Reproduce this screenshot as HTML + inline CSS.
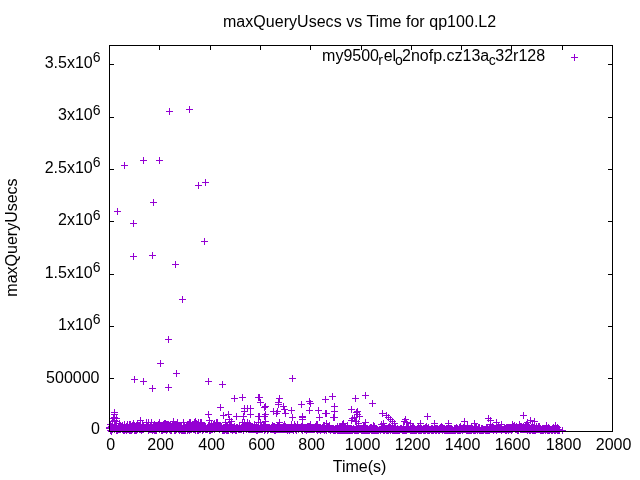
<!DOCTYPE html>
<html><head><meta charset="utf-8"><title>maxQueryUsecs vs Time for qp100.L2</title>
<style>html,body{margin:0;padding:0;background:#fff}body{width:640px;height:480px;overflow:hidden}</style></head>
<body>
<svg width="640" height="480" viewBox="0 0 640 480" style="display:block">
<rect width="640" height="480" fill="#fff"/>
<g font-family="'Liberation Sans', sans-serif" font-size="16" fill="#000">
<text x="359.6" y="27" text-anchor="middle" textLength="273.2">maxQueryUsecs vs Time for qp100.L2</text>
<text x="359.6" y="472" text-anchor="middle">Time(s)</text>
<text transform="translate(17,237.5) rotate(-90)" text-anchor="middle">maxQueryUsecs</text>
<text x="100" y="434.4" text-anchor="end">0</text>
<text x="99.5" y="382.5" text-anchor="end">500000</text>
<text x="100.5" y="330.0" text-anchor="end">1x10<tspan font-size="14" dy="-5.6">6</tspan></text>
<text x="100.5" y="277.6" text-anchor="end">1.5x10<tspan font-size="14" dy="-5.6">6</tspan></text>
<text x="100.5" y="225.2" text-anchor="end">2x10<tspan font-size="14" dy="-5.6">6</tspan></text>
<text x="100.5" y="172.8" text-anchor="end">2.5x10<tspan font-size="14" dy="-5.6">6</tspan></text>
<text x="100.5" y="120.3" text-anchor="end">3x10<tspan font-size="14" dy="-5.6">6</tspan></text>
<text x="100.5" y="67.9" text-anchor="end">3.5x10<tspan font-size="14" dy="-5.6">6</tspan></text>
<text x="110.6" y="450" text-anchor="middle">0</text>
<text x="160.6" y="450" text-anchor="middle">200</text>
<text x="211.6" y="450" text-anchor="middle">400</text>
<text x="261.6" y="450" text-anchor="middle">600</text>
<text x="311.6" y="450" text-anchor="middle">800</text>
<text x="362.6" y="450" text-anchor="middle">1000</text>
<text x="412.6" y="450" text-anchor="middle">1200</text>
<text x="462.6" y="450" text-anchor="middle">1400</text>
<text x="512.6" y="450" text-anchor="middle">1600</text>
<text x="563.6" y="450" text-anchor="middle">1800</text>
<text x="613.6" y="450" text-anchor="middle">2000</text>
<text y="60.5"><tspan x="322.1" y="60.5" font-size="16">my9500</tspan><tspan x="378.3" y="64.5" font-size="14">r</tspan><tspan x="383.7" y="60.5" font-size="16">el</tspan><tspan x="395.0" y="64.5" font-size="14">o</tspan><tspan x="402.0" y="60.5" font-size="16">2nofp.cz13a</tspan><tspan x="488.7" y="64.5" font-size="14">c</tspan><tspan x="495.3" y="60.5" font-size="16">32r128</tspan></text>
</g>
<path d="M109.5 431.5v-4.5M109.5 45.5v4.5M159.5 431.5v-4.5M159.5 45.5v4.5M210.5 431.5v-4.5M210.5 45.5v4.5M260.5 431.5v-4.5M260.5 45.5v4.5M310.5 431.5v-4.5M310.5 45.5v4.5M361.5 431.5v-4.5M361.5 45.5v4.5M411.5 431.5v-4.5M411.5 45.5v4.5M461.5 431.5v-4.5M461.5 45.5v4.5M511.5 431.5v-4.5M511.5 45.5v4.5M562.5 431.5v-4.5M562.5 45.5v4.5M612.5 431.5v-4.5M612.5 45.5v4.5M109.5 431.5h4.5M612.5 431.5h-4.5M109.5 378.5h4.5M612.5 378.5h-4.5M109.5 326.5h4.5M612.5 326.5h-4.5M109.5 274.5h4.5M612.5 274.5h-4.5M109.5 221.5h4.5M612.5 221.5h-4.5M109.5 169.5h4.5M612.5 169.5h-4.5M109.5 117.5h4.5M612.5 117.5h-4.5M109.5 64.5h4.5M612.5 64.5h-4.5" stroke="#000" stroke-width="1" fill="none" shape-rendering="crispEdges"/>
<path d="M110 428.5h7M113.5 425v7M110 427.5h7M113.5 424v7M111 429.5h7M114.5 426v7M111 428.5h7M114.5 425v7M111 425.5h7M114.5 422v7M111 427.5h7M114.5 424v7M112 425.5h7M115.5 422v7M112 427.5h7M115.5 424v7M113 430.5h7M116.5 427v7M113 426.5h7M116.5 423v7M113 427.5h7M116.5 424v7M114 430.5h7M117.5 427v7M114 429.5h7M117.5 426v7M115 427.5h7M118.5 424v7M115 428.5h7M118.5 425v7M115 429.5h7M118.5 426v7M116 427.5h7M119.5 424v7M116 429.5h7M119.5 426v7M116 423.5h7M119.5 420v7M117 427.5h7M120.5 424v7M117 425.5h7M120.5 422v7M117 429.5h7M120.5 426v7M118 428.5h7M121.5 425v7M118 426.5h7M121.5 423v7M118 427.5h7M121.5 424v7M119 428.5h7M122.5 425v7M119 429.5h7M122.5 426v7M119 425.5h7M122.5 422v7M120 429.5h7M123.5 426v7M120 427.5h7M123.5 424v7M120 430.5h7M123.5 427v7M121 428.5h7M124.5 425v7M121 424.5h7M124.5 421v7M121 430.5h7M124.5 427v7M122 428.5h7M125.5 425v7M122 429.5h7M125.5 426v7M122 427.5h7M125.5 424v7M123 430.5h7M126.5 427v7M123 426.5h7M126.5 423v7M124 424.5h7M127.5 421v7M124 427.5h7M127.5 424v7M124 428.5h7M127.5 425v7M124 429.5h7M127.5 426v7M125 427.5h7M128.5 424v7M125 429.5h7M128.5 426v7M126 429.5h7M129.5 426v7M126 424.5h7M129.5 421v7M126 430.5h7M129.5 427v7M127 430.5h7M130.5 427v7M127 427.5h7M130.5 424v7M127 424.5h7M130.5 421v7M128 430.5h7M131.5 427v7M128 427.5h7M131.5 424v7M128 429.5h7M131.5 426v7M129 429.5h7M132.5 426v7M129 426.5h7M132.5 423v7M129 425.5h7M132.5 422v7M129 428.5h7M132.5 425v7M130 427.5h7M133.5 424v7M130 423.5h7M133.5 420v7M131 427.5h7M134.5 424v7M131 430.5h7M134.5 427v7M131 425.5h7M134.5 422v7M132 426.5h7M135.5 423v7M132 427.5h7M135.5 424v7M132 430.5h7M135.5 427v7M132 429.5h7M135.5 426v7M133 426.5h7M136.5 423v7M133 430.5h7M136.5 427v7M133 428.5h7M136.5 425v7M133 425.5h7M136.5 422v7M134 429.5h7M137.5 426v7M134 423.5h7M137.5 420v7M134 427.5h7M137.5 424v7M134 428.5h7M137.5 425v7M135 427.5h7M138.5 424v7M135 426.5h7M138.5 423v7M135 428.5h7M138.5 425v7M135 425.5h7M138.5 422v7M136 429.5h7M139.5 426v7M136 428.5h7M139.5 425v7M136 425.5h7M139.5 422v7M137 429.5h7M140.5 426v7M137 426.5h7M140.5 423v7M137 424.5h7M140.5 421v7M137 428.5h7M140.5 425v7M138 430.5h7M141.5 427v7M138 428.5h7M141.5 425v7M139 424.5h7M142.5 421v7M139 429.5h7M142.5 426v7M139 425.5h7M142.5 422v7M140 429.5h7M143.5 426v7M140 426.5h7M143.5 423v7M140 425.5h7M143.5 422v7M141 427.5h7M144.5 424v7M141 428.5h7M144.5 425v7M142 428.5h7M145.5 425v7M142 427.5h7M145.5 424v7M143 426.5h7M146.5 423v7M143 427.5h7M146.5 424v7M143 422.5h7M146.5 419v7M144 428.5h7M147.5 425v7M144 426.5h7M147.5 423v7M145 428.5h7M148.5 425v7M145 427.5h7M148.5 424v7M145 422.5h7M148.5 419v7M145 430.5h7M148.5 427v7M146 429.5h7M149.5 426v7M146 427.5h7M149.5 424v7M147 428.5h7M150.5 425v7M147 426.5h7M150.5 423v7M147 427.5h7M150.5 424v7M147 429.5h7M150.5 426v7M148 422.5h7M151.5 419v7M148 427.5h7M151.5 424v7M148 429.5h7M151.5 426v7M148 428.5h7M151.5 425v7M149 428.5h7M152.5 425v7M149 430.5h7M152.5 427v7M149 429.5h7M152.5 426v7M150 425.5h7M153.5 422v7M150 429.5h7M153.5 426v7M150 428.5h7M153.5 425v7M150 426.5h7M153.5 423v7M151 426.5h7M154.5 423v7M151 424.5h7M154.5 421v7M151 430.5h7M154.5 427v7M151 428.5h7M154.5 425v7M152 428.5h7M155.5 425v7M152 426.5h7M155.5 423v7M152 425.5h7M155.5 422v7M152 430.5h7M155.5 427v7M153 425.5h7M156.5 422v7M153 430.5h7M156.5 427v7M153 426.5h7M156.5 423v7M154 427.5h7M157.5 424v7M154 425.5h7M157.5 422v7M154 428.5h7M157.5 425v7M155 426.5h7M158.5 423v7M155 428.5h7M158.5 425v7M155 424.5h7M158.5 421v7M156 425.5h7M159.5 422v7M156 428.5h7M159.5 425v7M156 422.5h7M159.5 419v7M156 429.5h7M159.5 426v7M157 426.5h7M160.5 423v7M157 428.5h7M160.5 425v7M158 427.5h7M161.5 424v7M158 426.5h7M161.5 423v7M158 430.5h7M161.5 427v7M159 427.5h7M162.5 424v7M159 429.5h7M162.5 426v7M159 430.5h7M162.5 427v7M160 425.5h7M163.5 422v7M160 426.5h7M163.5 423v7M160 424.5h7M163.5 421v7M160 429.5h7M163.5 426v7M161 428.5h7M164.5 425v7M161 429.5h7M164.5 426v7M161 426.5h7M164.5 423v7M161 423.5h7M164.5 420v7M162 429.5h7M165.5 426v7M162 423.5h7M165.5 420v7M162 425.5h7M165.5 422v7M162 428.5h7M165.5 425v7M163 430.5h7M166.5 427v7M163 424.5h7M166.5 421v7M163 428.5h7M166.5 425v7M163 429.5h7M166.5 426v7M164 427.5h7M167.5 424v7M164 424.5h7M167.5 421v7M164 429.5h7M167.5 426v7M165 425.5h7M168.5 422v7M165 424.5h7M168.5 421v7M165 428.5h7M168.5 425v7M166 429.5h7M169.5 426v7M166 425.5h7M169.5 422v7M166 428.5h7M169.5 425v7M167 424.5h7M170.5 421v7M167 428.5h7M170.5 425v7M167 430.5h7M170.5 427v7M168 430.5h7M171.5 427v7M168 426.5h7M171.5 423v7M168 427.5h7M171.5 424v7M168 429.5h7M171.5 426v7M169 428.5h7M172.5 425v7M169 426.5h7M172.5 423v7M169 424.5h7M172.5 421v7M170 428.5h7M173.5 425v7M170 425.5h7M173.5 422v7M170 424.5h7M173.5 421v7M170 423.5h7M173.5 420v7M171 429.5h7M174.5 426v7M171 426.5h7M174.5 423v7M171 430.5h7M174.5 427v7M172 430.5h7M175.5 427v7M172 425.5h7M175.5 422v7M172 429.5h7M175.5 426v7M172 428.5h7M175.5 425v7M173 428.5h7M176.5 425v7M173 429.5h7M176.5 426v7M173 427.5h7M176.5 424v7M174 422.5h7M177.5 419v7M174 428.5h7M177.5 425v7M174 427.5h7M177.5 424v7M174 425.5h7M177.5 422v7M175 428.5h7M178.5 425v7M175 429.5h7M178.5 426v7M175 425.5h7M178.5 422v7M176 430.5h7M179.5 427v7M176 429.5h7M179.5 426v7M176 425.5h7M179.5 422v7M176 426.5h7M179.5 423v7M177 428.5h7M180.5 425v7M177 426.5h7M180.5 423v7M177 427.5h7M180.5 424v7M177 429.5h7M180.5 426v7M178 430.5h7M181.5 427v7M178 429.5h7M181.5 426v7M178 426.5h7M181.5 423v7M179 429.5h7M182.5 426v7M179 430.5h7M182.5 427v7M179 428.5h7M182.5 425v7M180 429.5h7M183.5 426v7M180 427.5h7M183.5 424v7M180 430.5h7M183.5 427v7M181 429.5h7M184.5 426v7M181 430.5h7M184.5 427v7M181 426.5h7M184.5 423v7M181 428.5h7M184.5 425v7M182 430.5h7M185.5 427v7M182 429.5h7M185.5 426v7M182 427.5h7M185.5 424v7M183 426.5h7M186.5 423v7M183 427.5h7M186.5 424v7M184 424.5h7M187.5 421v7M184 426.5h7M187.5 423v7M184 427.5h7M187.5 424v7M184 430.5h7M187.5 427v7M185 426.5h7M188.5 423v7M185 424.5h7M188.5 421v7M185 428.5h7M188.5 425v7M185 429.5h7M188.5 426v7M186 422.5h7M189.5 419v7M186 430.5h7M189.5 427v7M186 427.5h7M189.5 424v7M187 429.5h7M190.5 426v7M187 426.5h7M190.5 423v7M187 422.5h7M190.5 419v7M187 428.5h7M190.5 425v7M188 427.5h7M191.5 424v7M188 426.5h7M191.5 423v7M188 429.5h7M191.5 426v7M188 428.5h7M191.5 425v7M189 427.5h7M192.5 424v7M189 426.5h7M192.5 423v7M189 428.5h7M192.5 425v7M190 429.5h7M193.5 426v7M190 428.5h7M193.5 425v7M190 426.5h7M193.5 423v7M191 429.5h7M194.5 426v7M191 422.5h7M194.5 419v7M191 425.5h7M194.5 422v7M192 426.5h7M195.5 423v7M192 430.5h7M195.5 427v7M192 427.5h7M195.5 424v7M193 423.5h7M196.5 420v7M193 427.5h7M196.5 424v7M193 428.5h7M196.5 425v7M194 430.5h7M197.5 427v7M194 425.5h7M197.5 422v7M194 427.5h7M197.5 424v7M194 429.5h7M197.5 426v7M195 424.5h7M198.5 421v7M195 422.5h7M198.5 419v7M195 430.5h7M198.5 427v7M195 429.5h7M198.5 426v7M196 427.5h7M199.5 424v7M196 428.5h7M199.5 425v7M196 429.5h7M199.5 426v7M197 422.5h7M200.5 419v7M197 425.5h7M200.5 422v7M197 429.5h7M200.5 426v7M198 423.5h7M201.5 420v7M198 425.5h7M201.5 422v7M198 422.5h7M201.5 419v7M198 426.5h7M201.5 423v7M199 429.5h7M202.5 426v7M199 427.5h7M202.5 424v7M199 430.5h7M202.5 427v7M200 428.5h7M203.5 425v7M200 427.5h7M203.5 424v7M200 429.5h7M203.5 426v7M201 427.5h7M204.5 424v7M201 426.5h7M204.5 423v7M202 428.5h7M205.5 425v7M202 426.5h7M205.5 423v7M202 429.5h7M205.5 426v7M203 429.5h7M206.5 426v7M203 428.5h7M206.5 425v7M204 428.5h7M207.5 425v7M204 427.5h7M207.5 424v7M204 429.5h7M207.5 426v7M205 427.5h7M208.5 424v7M205 425.5h7M208.5 422v7M205 428.5h7M208.5 425v7M206 427.5h7M209.5 424v7M206 429.5h7M209.5 426v7M206 430.5h7M209.5 427v7M206 428.5h7M209.5 425v7M207 429.5h7M210.5 426v7M207 426.5h7M210.5 423v7M207 430.5h7M210.5 427v7M208 429.5h7M211.5 426v7M208 423.5h7M211.5 420v7M208 428.5h7M211.5 425v7M209 429.5h7M212.5 426v7M209 427.5h7M212.5 424v7M210 424.5h7M213.5 421v7M210 426.5h7M213.5 423v7M210 428.5h7M213.5 425v7M210 427.5h7M213.5 424v7M211 423.5h7M214.5 420v7M211 426.5h7M214.5 423v7M211 425.5h7M214.5 422v7M211 429.5h7M214.5 426v7M212 428.5h7M215.5 425v7M212 426.5h7M215.5 423v7M212 425.5h7M215.5 422v7M213 427.5h7M216.5 424v7M213 426.5h7M216.5 423v7M213 428.5h7M216.5 425v7M213 422.5h7M216.5 419v7M214 425.5h7M217.5 422v7M214 428.5h7M217.5 425v7M214 422.5h7M217.5 419v7M215 428.5h7M218.5 425v7M215 426.5h7M218.5 423v7M216 429.5h7M219.5 426v7M216 427.5h7M219.5 424v7M216 425.5h7M219.5 422v7M217 426.5h7M220.5 423v7M217 428.5h7M220.5 425v7M217 427.5h7M220.5 424v7M218 427.5h7M221.5 424v7M218 428.5h7M221.5 425v7M218 426.5h7M221.5 423v7M219 429.5h7M222.5 426v7M219 428.5h7M222.5 425v7M219 430.5h7M222.5 427v7M220 428.5h7M223.5 425v7M220 430.5h7M223.5 427v7M220 429.5h7M223.5 426v7M220 427.5h7M223.5 424v7M221 427.5h7M224.5 424v7M221 428.5h7M224.5 425v7M221 430.5h7M224.5 427v7M222 422.5h7M225.5 419v7M222 427.5h7M225.5 424v7M222 425.5h7M225.5 422v7M222 429.5h7M225.5 426v7M223 428.5h7M226.5 425v7M223 430.5h7M226.5 427v7M223 426.5h7M226.5 423v7M224 430.5h7M227.5 427v7M224 428.5h7M227.5 425v7M224 426.5h7M227.5 423v7M225 430.5h7M228.5 427v7M225 429.5h7M228.5 426v7M226 428.5h7M229.5 425v7M226 427.5h7M229.5 424v7M226 426.5h7M229.5 423v7M227 424.5h7M230.5 421v7M227 425.5h7M230.5 422v7M227 429.5h7M230.5 426v7M228 429.5h7M231.5 426v7M228 428.5h7M231.5 425v7M229 427.5h7M232.5 424v7M229 430.5h7M232.5 427v7M229 429.5h7M232.5 426v7M229 428.5h7M232.5 425v7M230 428.5h7M233.5 425v7M230 429.5h7M233.5 426v7M231 426.5h7M234.5 423v7M231 427.5h7M234.5 424v7M231 428.5h7M234.5 425v7M231 429.5h7M234.5 426v7M232 428.5h7M235.5 425v7M232 430.5h7M235.5 427v7M232 429.5h7M235.5 426v7M233 430.5h7M236.5 427v7M233 427.5h7M236.5 424v7M233 428.5h7M236.5 425v7M233 429.5h7M236.5 426v7M234 428.5h7M237.5 425v7M234 427.5h7M237.5 424v7M235 428.5h7M238.5 425v7M235 429.5h7M238.5 426v7M236 426.5h7M239.5 423v7M236 427.5h7M239.5 424v7M236 429.5h7M239.5 426v7M237 428.5h7M240.5 425v7M237 429.5h7M240.5 426v7M238 429.5h7M241.5 426v7M238 428.5h7M241.5 425v7M238 427.5h7M241.5 424v7M239 422.5h7M242.5 419v7M239 428.5h7M242.5 425v7M239 425.5h7M242.5 422v7M240 425.5h7M243.5 422v7M240 430.5h7M243.5 427v7M240 429.5h7M243.5 426v7M240 427.5h7M243.5 424v7M241 427.5h7M244.5 424v7M241 422.5h7M244.5 419v7M241 425.5h7M244.5 422v7M242 426.5h7M245.5 423v7M242 427.5h7M245.5 424v7M242 428.5h7M245.5 425v7M243 427.5h7M246.5 424v7M243 429.5h7M246.5 426v7M243 425.5h7M246.5 422v7M244 427.5h7M247.5 424v7M244 422.5h7M247.5 419v7M244 428.5h7M247.5 425v7M245 425.5h7M248.5 422v7M245 428.5h7M248.5 425v7M245 429.5h7M248.5 426v7M245 427.5h7M248.5 424v7M246 427.5h7M249.5 424v7M246 426.5h7M249.5 423v7M246 429.5h7M249.5 426v7M246 423.5h7M249.5 420v7M247 426.5h7M250.5 423v7M247 428.5h7M250.5 425v7M247 429.5h7M250.5 426v7M248 426.5h7M251.5 423v7M248 429.5h7M251.5 426v7M248 427.5h7M251.5 424v7M249 429.5h7M252.5 426v7M249 427.5h7M252.5 424v7M249 426.5h7M252.5 423v7M249 428.5h7M252.5 425v7M250 429.5h7M253.5 426v7M250 427.5h7M253.5 424v7M250 428.5h7M253.5 425v7M251 426.5h7M254.5 423v7M251 427.5h7M254.5 424v7M251 429.5h7M254.5 426v7M251 424.5h7M254.5 421v7M252 428.5h7M255.5 425v7M252 427.5h7M255.5 424v7M252 429.5h7M255.5 426v7M253 430.5h7M256.5 427v7M253 425.5h7M256.5 422v7M253 426.5h7M256.5 423v7M253 429.5h7M256.5 426v7M254 429.5h7M257.5 426v7M254 430.5h7M257.5 427v7M254 427.5h7M257.5 424v7M255 428.5h7M258.5 425v7M255 429.5h7M258.5 426v7M256 428.5h7M259.5 425v7M256 429.5h7M259.5 426v7M257 428.5h7M260.5 425v7M257 429.5h7M260.5 426v7M258 429.5h7M261.5 426v7M258 426.5h7M261.5 423v7M258 427.5h7M261.5 424v7M258 428.5h7M261.5 425v7M259 429.5h7M262.5 426v7M260 428.5h7M263.5 425v7M260 427.5h7M263.5 424v7M260 425.5h7M263.5 422v7M261 429.5h7M264.5 426v7M261 428.5h7M264.5 425v7M261 424.5h7M264.5 421v7M261 430.5h7M264.5 427v7M262 429.5h7M265.5 426v7M262 428.5h7M265.5 425v7M263 428.5h7M266.5 425v7M263 427.5h7M266.5 424v7M264 430.5h7M267.5 427v7M264 429.5h7M267.5 426v7M264 428.5h7M267.5 425v7M265 429.5h7M268.5 426v7M265 427.5h7M268.5 424v7M266 427.5h7M269.5 424v7M266 428.5h7M269.5 425v7M267 429.5h7M270.5 426v7M267 428.5h7M270.5 425v7M268 428.5h7M271.5 425v7M268 427.5h7M271.5 424v7M268 429.5h7M271.5 426v7M269 425.5h7M272.5 422v7M269 429.5h7M272.5 426v7M269 428.5h7M272.5 425v7M270 426.5h7M273.5 423v7M270 428.5h7M273.5 425v7M270 427.5h7M273.5 424v7M270 429.5h7M273.5 426v7M271 428.5h7M274.5 425v7M271 430.5h7M274.5 427v7M271 426.5h7M274.5 423v7M272 427.5h7M275.5 424v7M272 430.5h7M275.5 427v7M272 428.5h7M275.5 425v7M273 428.5h7M276.5 425v7M273 429.5h7M276.5 426v7M274 426.5h7M277.5 423v7M274 429.5h7M277.5 426v7M275 429.5h7M278.5 426v7M275 428.5h7M278.5 425v7M275 425.5h7M278.5 422v7M276 428.5h7M279.5 425v7M276 424.5h7M279.5 421v7M276 429.5h7M279.5 426v7M277 428.5h7M280.5 425v7M277 429.5h7M280.5 426v7M278 428.5h7M281.5 425v7M278 429.5h7M281.5 426v7M279 429.5h7M282.5 426v7M279 428.5h7M282.5 425v7M280 429.5h7M283.5 426v7M280 427.5h7M283.5 424v7M280 426.5h7M283.5 423v7M281 427.5h7M284.5 424v7M281 429.5h7M284.5 426v7M281 428.5h7M284.5 425v7M282 426.5h7M285.5 423v7M282 429.5h7M285.5 426v7M282 428.5h7M285.5 425v7M283 429.5h7M286.5 426v7M283 428.5h7M286.5 425v7M284 429.5h7M287.5 426v7M284 430.5h7M287.5 427v7M284 428.5h7M287.5 425v7M285 429.5h7M288.5 426v7M285 427.5h7M288.5 424v7M285 428.5h7M288.5 425v7M286 428.5h7M289.5 425v7M286 430.5h7M289.5 427v7M286 429.5h7M289.5 426v7M287 427.5h7M290.5 424v7M287 428.5h7M290.5 425v7M287 429.5h7M290.5 426v7M288 428.5h7M291.5 425v7M288 426.5h7M291.5 423v7M288 429.5h7M291.5 426v7M288 424.5h7M291.5 421v7M289 429.5h7M292.5 426v7M289 428.5h7M292.5 425v7M289 427.5h7M292.5 424v7M290 429.5h7M293.5 426v7M290 430.5h7M293.5 427v7M290 427.5h7M293.5 424v7M291 427.5h7M294.5 424v7M291 424.5h7M294.5 421v7M291 428.5h7M294.5 425v7M292 427.5h7M295.5 424v7M292 428.5h7M295.5 425v7M292 426.5h7M295.5 423v7M292 429.5h7M295.5 426v7M293 429.5h7M296.5 426v7M293 430.5h7M296.5 427v7M293 427.5h7M296.5 424v7M294 427.5h7M297.5 424v7M294 424.5h7M297.5 421v7M294 428.5h7M297.5 425v7M295 429.5h7M298.5 426v7M295 427.5h7M298.5 424v7M296 428.5h7M299.5 425v7M296 427.5h7M299.5 424v7M297 428.5h7M300.5 425v7M297 427.5h7M300.5 424v7M298 429.5h7M301.5 426v7M298 426.5h7M301.5 423v7M298 428.5h7M301.5 425v7M299 427.5h7M302.5 424v7M299 428.5h7M302.5 425v7M299 430.5h7M302.5 427v7M299 426.5h7M302.5 423v7M300 428.5h7M303.5 425v7M300 427.5h7M303.5 424v7M301 429.5h7M304.5 426v7M301 427.5h7M304.5 424v7M301 428.5h7M304.5 425v7M302 428.5h7M305.5 425v7M302 427.5h7M305.5 424v7M302 429.5h7M305.5 426v7M303 428.5h7M306.5 425v7M303 430.5h7M306.5 427v7M303 429.5h7M306.5 426v7M303 427.5h7M306.5 424v7M304 426.5h7M307.5 423v7M304 429.5h7M307.5 426v7M304 428.5h7M307.5 425v7M305 429.5h7M308.5 426v7M305 427.5h7M308.5 424v7M305 426.5h7M308.5 423v7M305 428.5h7M308.5 425v7M306 426.5h7M309.5 423v7M306 429.5h7M309.5 426v7M306 428.5h7M309.5 425v7M307 428.5h7M310.5 425v7M307 427.5h7M310.5 424v7M307 424.5h7M310.5 421v7M307 429.5h7M310.5 426v7M308 429.5h7M311.5 426v7M308 428.5h7M311.5 425v7M309 427.5h7M312.5 424v7M309 428.5h7M312.5 425v7M309 429.5h7M312.5 426v7M310 427.5h7M313.5 424v7M310 429.5h7M313.5 426v7M311 429.5h7M314.5 426v7M311 427.5h7M314.5 424v7M311 428.5h7M314.5 425v7M312 428.5h7M315.5 425v7M312 426.5h7M315.5 423v7M313 426.5h7M316.5 423v7M313 428.5h7M316.5 425v7M313 429.5h7M316.5 426v7M313 424.5h7M316.5 421v7M314 424.5h7M317.5 421v7M314 430.5h7M317.5 427v7M314 428.5h7M317.5 425v7M315 427.5h7M318.5 424v7M315 428.5h7M318.5 425v7M315 429.5h7M318.5 426v7M316 428.5h7M319.5 425v7M316 427.5h7M319.5 424v7M316 429.5h7M319.5 426v7M317 428.5h7M320.5 425v7M317 430.5h7M320.5 427v7M317 429.5h7M320.5 426v7M318 428.5h7M321.5 425v7M318 429.5h7M321.5 426v7M319 428.5h7M322.5 425v7M319 429.5h7M322.5 426v7M319 427.5h7M322.5 424v7M320 427.5h7M323.5 424v7M320 425.5h7M323.5 422v7M320 429.5h7M323.5 426v7M321 430.5h7M324.5 427v7M321 425.5h7M324.5 422v7M321 429.5h7M324.5 426v7M321 428.5h7M324.5 425v7M322 428.5h7M325.5 425v7M322 429.5h7M325.5 426v7M323 430.5h7M326.5 427v7M323 428.5h7M326.5 425v7M323 426.5h7M326.5 423v7M324 427.5h7M327.5 424v7M324 428.5h7M327.5 425v7M325 426.5h7M328.5 423v7M325 428.5h7M328.5 425v7M325 427.5h7M328.5 424v7M325 429.5h7M328.5 426v7M326 427.5h7M329.5 424v7M326 429.5h7M329.5 426v7M326 428.5h7M329.5 425v7M326 425.5h7M329.5 422v7M327 429.5h7M330.5 426v7M327 430.5h7M330.5 427v7M328 429.5h7M331.5 426v7M328 428.5h7M331.5 425v7M329 429.5h7M332.5 426v7M329 428.5h7M332.5 425v7M330 428.5h7M333.5 425v7M330 429.5h7M333.5 426v7M330 430.5h7M333.5 427v7M331 429.5h7M334.5 426v7M331 430.5h7M334.5 427v7M332 429.5h7M335.5 426v7M332 430.5h7M335.5 427v7M332 428.5h7M335.5 425v7M333 429.5h7M336.5 426v7M333 428.5h7M336.5 425v7M334 430.5h7M337.5 427v7M334 429.5h7M337.5 426v7M334 426.5h7M337.5 423v7M335 429.5h7M338.5 426v7M335 428.5h7M338.5 425v7M335 430.5h7M338.5 427v7M336 426.5h7M339.5 423v7M336 430.5h7M339.5 427v7M336 429.5h7M339.5 426v7M337 429.5h7M340.5 426v7M337 430.5h7M340.5 427v7M337 426.5h7M340.5 423v7M338 430.5h7M341.5 427v7M338 428.5h7M341.5 425v7M339 430.5h7M342.5 427v7M339 429.5h7M342.5 426v7M339 428.5h7M342.5 425v7M340 430.5h7M343.5 427v7M340 428.5h7M343.5 425v7M341 430.5h7M344.5 427v7M341 428.5h7M344.5 425v7M341 429.5h7M344.5 426v7M342 430.5h7M345.5 427v7M342 429.5h7M345.5 426v7M342 428.5h7M345.5 425v7M343 428.5h7M346.5 425v7M343 430.5h7M346.5 427v7M343 429.5h7M346.5 426v7M344 425.5h7M347.5 422v7M344 430.5h7M347.5 427v7M344 429.5h7M347.5 426v7M345 428.5h7M348.5 425v7M345 429.5h7M348.5 426v7M345 430.5h7M348.5 427v7M346 429.5h7M349.5 426v7M346 430.5h7M349.5 427v7M347 430.5h7M350.5 427v7M347 428.5h7M350.5 425v7M347 429.5h7M350.5 426v7M348 429.5h7M351.5 426v7M348 428.5h7M351.5 425v7M348 430.5h7M351.5 427v7M349 429.5h7M352.5 426v7M349 430.5h7M352.5 427v7M350 428.5h7M353.5 425v7M350 429.5h7M353.5 426v7M351 429.5h7M354.5 426v7M351 430.5h7M354.5 427v7M352 430.5h7M355.5 427v7M352 429.5h7M355.5 426v7M353 430.5h7M356.5 427v7M353 428.5h7M356.5 425v7M353 429.5h7M356.5 426v7M354 428.5h7M357.5 425v7M354 429.5h7M357.5 426v7M354 430.5h7M357.5 427v7M355 429.5h7M358.5 426v7M355 430.5h7M358.5 427v7M356 429.5h7M359.5 426v7M356 428.5h7M359.5 425v7M357 428.5h7M360.5 425v7M357 429.5h7M360.5 426v7M358 429.5h7M361.5 426v7M358 430.5h7M361.5 427v7M359 429.5h7M362.5 426v7M359 430.5h7M362.5 427v7M360 429.5h7M363.5 426v7M360 426.5h7M363.5 423v7M360 430.5h7M363.5 427v7M361 429.5h7M364.5 426v7M361 430.5h7M364.5 427v7M361 428.5h7M364.5 425v7M361 425.5h7M364.5 422v7M362 430.5h7M365.5 427v7M362 429.5h7M365.5 426v7M363 429.5h7M366.5 426v7M363 430.5h7M366.5 427v7M363 428.5h7M366.5 425v7M364 429.5h7M367.5 426v7M364 430.5h7M367.5 427v7M365 429.5h7M368.5 426v7M365 430.5h7M368.5 427v7M366 429.5h7M369.5 426v7M366 428.5h7M369.5 425v7M366 430.5h7M369.5 427v7M367 429.5h7M370.5 426v7M367 428.5h7M370.5 425v7M367 427.5h7M370.5 424v7M368 430.5h7M371.5 427v7M368 428.5h7M371.5 425v7M368 427.5h7M371.5 424v7M369 428.5h7M372.5 425v7M369 430.5h7M372.5 427v7M370 428.5h7M373.5 425v7M370 430.5h7M373.5 427v7M371 426.5h7M374.5 423v7M371 427.5h7M374.5 424v7M371 430.5h7M374.5 427v7M372 429.5h7M375.5 426v7M372 430.5h7M375.5 427v7M372 428.5h7M375.5 425v7M373 430.5h7M376.5 427v7M373 428.5h7M376.5 425v7M373 429.5h7M376.5 426v7M374 429.5h7M377.5 426v7M374 430.5h7M377.5 427v7M375 430.5h7M378.5 427v7M376 429.5h7M379.5 426v7M377 430.5h7M380.5 427v7M377 429.5h7M380.5 426v7M378 429.5h7M381.5 426v7M379 428.5h7M382.5 425v7M379 429.5h7M382.5 426v7M380 429.5h7M383.5 426v7M380 428.5h7M383.5 425v7M380 430.5h7M383.5 427v7M381 430.5h7M384.5 427v7M381 427.5h7M384.5 424v7M382 429.5h7M385.5 426v7M382 428.5h7M385.5 425v7M383 428.5h7M386.5 425v7M383 430.5h7M386.5 427v7M383 429.5h7M386.5 426v7M384 428.5h7M387.5 425v7M384 429.5h7M387.5 426v7M384 430.5h7M387.5 427v7M385 430.5h7M388.5 427v7M385 427.5h7M388.5 424v7M386 429.5h7M389.5 426v7M386 426.5h7M389.5 423v7M386 428.5h7M389.5 425v7M387 430.5h7M390.5 427v7M387 429.5h7M390.5 426v7M387 427.5h7M390.5 424v7M388 428.5h7M391.5 425v7M388 429.5h7M391.5 426v7M389 429.5h7M392.5 426v7M389 428.5h7M392.5 425v7M389 430.5h7M392.5 427v7M390 429.5h7M393.5 426v7M390 430.5h7M393.5 427v7M390 428.5h7M393.5 425v7M391 427.5h7M394.5 424v7M391 429.5h7M394.5 426v7M391 430.5h7M394.5 427v7M392 427.5h7M395.5 424v7M392 429.5h7M395.5 426v7M392 430.5h7M395.5 427v7M393 429.5h7M396.5 426v7M393 430.5h7M396.5 427v7M394 429.5h7M397.5 426v7M394 430.5h7M397.5 427v7M394 428.5h7M397.5 425v7M395 430.5h7M398.5 427v7M395 429.5h7M398.5 426v7M396 430.5h7M399.5 427v7M396 429.5h7M399.5 426v7M397 429.5h7M400.5 426v7M397 428.5h7M400.5 425v7M398 429.5h7M401.5 426v7M398 428.5h7M401.5 425v7M399 429.5h7M402.5 426v7M399 430.5h7M402.5 427v7M400 429.5h7M403.5 426v7M400 430.5h7M403.5 427v7M400 426.5h7M403.5 423v7M401 430.5h7M404.5 427v7M402 430.5h7M405.5 427v7M402 429.5h7M405.5 426v7M403 430.5h7M406.5 427v7M403 429.5h7M406.5 426v7M404 429.5h7M407.5 426v7M404 428.5h7M407.5 425v7M404 427.5h7M407.5 424v7M405 429.5h7M408.5 426v7M405 427.5h7M408.5 424v7M405 428.5h7M408.5 425v7M406 429.5h7M409.5 426v7M407 429.5h7M410.5 426v7M407 430.5h7M410.5 427v7M408 428.5h7M411.5 425v7M408 429.5h7M411.5 426v7M408 430.5h7M411.5 427v7M409 428.5h7M412.5 425v7M409 430.5h7M412.5 427v7M409 427.5h7M412.5 424v7M410 426.5h7M413.5 423v7M410 430.5h7M413.5 427v7M410 429.5h7M413.5 426v7M411 429.5h7M414.5 426v7M411 428.5h7M414.5 425v7M411 430.5h7M414.5 427v7M412 430.5h7M415.5 427v7M412 429.5h7M415.5 426v7M413 429.5h7M416.5 426v7M413 430.5h7M416.5 427v7M414 429.5h7M417.5 426v7M414 428.5h7M417.5 425v7M415 429.5h7M418.5 426v7M415 427.5h7M418.5 424v7M415 430.5h7M418.5 427v7M416 428.5h7M419.5 425v7M416 429.5h7M419.5 426v7M416 430.5h7M419.5 427v7M417 428.5h7M420.5 425v7M417 429.5h7M420.5 426v7M417 430.5h7M420.5 427v7M418 430.5h7M421.5 427v7M418 428.5h7M421.5 425v7M418 429.5h7M421.5 426v7M419 429.5h7M422.5 426v7M420 428.5h7M423.5 425v7M420 429.5h7M423.5 426v7M420 430.5h7M423.5 427v7M421 428.5h7M424.5 425v7M421 429.5h7M424.5 426v7M421 430.5h7M424.5 427v7M422 429.5h7M425.5 426v7M422 428.5h7M425.5 425v7M422 430.5h7M425.5 427v7M422 427.5h7M425.5 424v7M423 429.5h7M426.5 426v7M423 426.5h7M426.5 423v7M423 428.5h7M426.5 425v7M424 429.5h7M427.5 426v7M424 430.5h7M427.5 427v7M424 428.5h7M427.5 425v7M425 427.5h7M428.5 424v7M425 428.5h7M428.5 425v7M425 430.5h7M428.5 427v7M426 430.5h7M429.5 427v7M426 429.5h7M429.5 426v7M427 429.5h7M430.5 426v7M428 429.5h7M431.5 426v7M428 428.5h7M431.5 425v7M428 430.5h7M431.5 427v7M429 430.5h7M432.5 427v7M429 428.5h7M432.5 425v7M429 429.5h7M432.5 426v7M430 430.5h7M433.5 427v7M430 429.5h7M433.5 426v7M431 429.5h7M434.5 426v7M431 428.5h7M434.5 425v7M431 427.5h7M434.5 424v7M432 430.5h7M435.5 427v7M432 429.5h7M435.5 426v7M432 428.5h7M435.5 425v7M433 429.5h7M436.5 426v7M433 430.5h7M436.5 427v7M433 428.5h7M436.5 425v7M434 429.5h7M437.5 426v7M434 428.5h7M437.5 425v7M435 429.5h7M438.5 426v7M435 430.5h7M438.5 427v7M436 429.5h7M439.5 426v7M436 428.5h7M439.5 425v7M436 430.5h7M439.5 427v7M437 429.5h7M440.5 426v7M437 427.5h7M440.5 424v7M438 426.5h7M441.5 423v7M438 427.5h7M441.5 424v7M438 428.5h7M441.5 425v7M438 429.5h7M441.5 426v7M439 427.5h7M442.5 424v7M439 429.5h7M442.5 426v7M439 430.5h7M442.5 427v7M440 429.5h7M443.5 426v7M440 428.5h7M443.5 425v7M441 429.5h7M444.5 426v7M441 430.5h7M444.5 427v7M441 428.5h7M444.5 425v7M442 429.5h7M445.5 426v7M442 430.5h7M445.5 427v7M443 428.5h7M446.5 425v7M443 430.5h7M446.5 427v7M444 428.5h7M447.5 425v7M444 430.5h7M447.5 427v7M445 430.5h7M448.5 427v7M445 429.5h7M448.5 426v7M446 429.5h7M449.5 426v7M446 430.5h7M449.5 427v7M446 428.5h7M449.5 425v7M447 430.5h7M450.5 427v7M447 429.5h7M450.5 426v7M447 428.5h7M450.5 425v7M448 428.5h7M451.5 425v7M448 429.5h7M451.5 426v7M448 430.5h7M451.5 427v7M449 429.5h7M452.5 426v7M449 430.5h7M452.5 427v7M450 430.5h7M453.5 427v7M451 429.5h7M454.5 426v7M451 428.5h7M454.5 425v7M451 430.5h7M454.5 427v7M452 430.5h7M455.5 427v7M452 429.5h7M455.5 426v7M452 428.5h7M455.5 425v7M453 428.5h7M456.5 425v7M453 427.5h7M456.5 424v7M453 429.5h7M456.5 426v7M454 428.5h7M457.5 425v7M454 430.5h7M457.5 427v7M454 429.5h7M457.5 426v7M455 430.5h7M458.5 427v7M455 429.5h7M458.5 426v7M456 430.5h7M459.5 427v7M456 428.5h7M459.5 425v7M456 429.5h7M459.5 426v7M456 427.5h7M459.5 424v7M457 430.5h7M460.5 427v7M457 428.5h7M460.5 425v7M457 426.5h7M460.5 423v7M457 427.5h7M460.5 424v7M458 429.5h7M461.5 426v7M458 428.5h7M461.5 425v7M459 428.5h7M462.5 425v7M459 429.5h7M462.5 426v7M459 430.5h7M462.5 427v7M460 429.5h7M463.5 426v7M460 427.5h7M463.5 424v7M461 428.5h7M464.5 425v7M461 429.5h7M464.5 426v7M461 427.5h7M464.5 424v7M462 429.5h7M465.5 426v7M462 428.5h7M465.5 425v7M463 429.5h7M466.5 426v7M463 430.5h7M466.5 427v7M464 429.5h7M467.5 426v7M464 425.5h7M467.5 422v7M464 430.5h7M467.5 427v7M464 428.5h7M467.5 425v7M465 428.5h7M468.5 425v7M465 430.5h7M468.5 427v7M465 429.5h7M468.5 426v7M466 429.5h7M469.5 426v7M466 430.5h7M469.5 427v7M467 429.5h7M470.5 426v7M467 430.5h7M470.5 427v7M468 430.5h7M471.5 427v7M468 429.5h7M471.5 426v7M468 427.5h7M471.5 424v7M469 429.5h7M472.5 426v7M469 428.5h7M472.5 425v7M470 430.5h7M473.5 427v7M470 429.5h7M473.5 426v7M471 427.5h7M474.5 424v7M471 430.5h7M474.5 427v7M471 428.5h7M474.5 425v7M472 428.5h7M475.5 425v7M472 430.5h7M475.5 427v7M472 427.5h7M475.5 424v7M473 429.5h7M476.5 426v7M473 426.5h7M476.5 423v7M474 429.5h7M477.5 426v7M474 430.5h7M477.5 427v7M475 429.5h7M478.5 426v7M475 427.5h7M478.5 424v7M476 427.5h7M479.5 424v7M476 430.5h7M479.5 427v7M476 428.5h7M479.5 425v7M477 430.5h7M480.5 427v7M478 429.5h7M481.5 426v7M478 430.5h7M481.5 427v7M478 428.5h7M481.5 425v7M479 430.5h7M482.5 427v7M479 429.5h7M482.5 426v7M479 428.5h7M482.5 425v7M480 430.5h7M483.5 427v7M480 429.5h7M483.5 426v7M481 429.5h7M484.5 426v7M482 430.5h7M485.5 427v7M482 429.5h7M485.5 426v7M483 427.5h7M486.5 424v7M483 429.5h7M486.5 426v7M483 430.5h7M486.5 427v7M484 430.5h7M487.5 427v7M484 428.5h7M487.5 425v7M485 429.5h7M488.5 426v7M485 430.5h7M488.5 427v7M486 428.5h7M489.5 425v7M486 429.5h7M489.5 426v7M486 430.5h7M489.5 427v7M487 429.5h7M490.5 426v7M487 424.5h7M490.5 421v7M487 428.5h7M490.5 425v7M488 428.5h7M491.5 425v7M488 429.5h7M491.5 426v7M489 429.5h7M492.5 426v7M489 426.5h7M492.5 423v7M489 427.5h7M492.5 424v7M490 430.5h7M493.5 427v7M490 429.5h7M493.5 426v7M490 428.5h7M493.5 425v7M490 427.5h7M493.5 424v7M491 429.5h7M494.5 426v7M491 428.5h7M494.5 425v7M492 428.5h7M495.5 425v7M492 429.5h7M495.5 426v7M493 430.5h7M496.5 427v7M493 428.5h7M496.5 425v7M493 429.5h7M496.5 426v7M494 429.5h7M497.5 426v7M494 427.5h7M497.5 424v7M495 429.5h7M498.5 426v7M495 426.5h7M498.5 423v7M495 428.5h7M498.5 425v7M496 427.5h7M499.5 424v7M496 429.5h7M499.5 426v7M496 428.5h7M499.5 425v7M497 428.5h7M500.5 425v7M497 427.5h7M500.5 424v7M497 429.5h7M500.5 426v7M498 429.5h7M501.5 426v7M498 430.5h7M501.5 427v7M498 427.5h7M501.5 424v7M499 429.5h7M502.5 426v7M500 429.5h7M503.5 426v7M501 428.5h7M504.5 425v7M501 429.5h7M504.5 426v7M502 428.5h7M505.5 425v7M502 430.5h7M505.5 427v7M502 429.5h7M505.5 426v7M503 427.5h7M506.5 424v7M503 430.5h7M506.5 427v7M503 429.5h7M506.5 426v7M504 429.5h7M507.5 426v7M504 427.5h7M507.5 424v7M505 429.5h7M508.5 426v7M505 430.5h7M508.5 427v7M505 427.5h7M508.5 424v7M505 428.5h7M508.5 425v7M506 428.5h7M509.5 425v7M506 429.5h7M509.5 426v7M507 427.5h7M510.5 424v7M507 429.5h7M510.5 426v7M507 428.5h7M510.5 425v7M508 430.5h7M511.5 427v7M508 429.5h7M511.5 426v7M508 427.5h7M511.5 424v7M508 428.5h7M511.5 425v7M509 429.5h7M512.5 426v7M509 428.5h7M512.5 425v7M510 428.5h7M513.5 425v7M510 426.5h7M513.5 423v7M511 425.5h7M514.5 422v7M511 426.5h7M514.5 423v7M511 427.5h7M514.5 424v7M512 428.5h7M515.5 425v7M512 429.5h7M515.5 426v7M513 428.5h7M516.5 425v7M513 429.5h7M516.5 426v7M513 426.5h7M516.5 423v7M514 429.5h7M517.5 426v7M514 430.5h7M517.5 427v7M514 428.5h7M517.5 425v7M515 429.5h7M518.5 426v7M515 430.5h7M518.5 427v7M515 428.5h7M518.5 425v7M516 428.5h7M519.5 425v7M516 424.5h7M519.5 421v7M517 426.5h7M520.5 423v7M517 428.5h7M520.5 425v7M517 429.5h7M520.5 426v7M518 429.5h7M521.5 426v7M518 426.5h7M521.5 423v7M518 427.5h7M521.5 424v7M519 429.5h7M522.5 426v7M519 428.5h7M522.5 425v7M519 427.5h7M522.5 424v7M520 429.5h7M523.5 426v7M520 428.5h7M523.5 425v7M520 427.5h7M523.5 424v7M520 426.5h7M523.5 423v7M521 429.5h7M524.5 426v7M521 427.5h7M524.5 424v7M522 429.5h7M525.5 426v7M522 427.5h7M525.5 424v7M522 426.5h7M525.5 423v7M523 429.5h7M526.5 426v7M523 424.5h7M526.5 421v7M523 427.5h7M526.5 424v7M524 429.5h7M527.5 426v7M524 430.5h7M527.5 427v7M524 427.5h7M527.5 424v7M525 425.5h7M528.5 422v7M525 429.5h7M528.5 426v7M526 430.5h7M529.5 427v7M526 427.5h7M529.5 424v7M526 429.5h7M529.5 426v7M527 430.5h7M530.5 427v7M527 429.5h7M530.5 426v7M527 428.5h7M530.5 425v7M528 427.5h7M531.5 424v7M528 428.5h7M531.5 425v7M528 429.5h7M531.5 426v7M529 427.5h7M532.5 424v7M529 430.5h7M532.5 427v7M529 425.5h7M532.5 422v7M529 428.5h7M532.5 425v7M530 427.5h7M533.5 424v7M530 430.5h7M533.5 427v7M530 429.5h7M533.5 426v7M531 427.5h7M534.5 424v7M531 429.5h7M534.5 426v7M531 430.5h7M534.5 427v7M532 429.5h7M535.5 426v7M532 428.5h7M535.5 425v7M532 430.5h7M535.5 427v7M533 428.5h7M536.5 425v7M533 426.5h7M536.5 423v7M533 427.5h7M536.5 424v7M533 429.5h7M536.5 426v7M534 429.5h7M537.5 426v7M534 428.5h7M537.5 425v7M535 428.5h7M538.5 425v7M535 426.5h7M538.5 423v7M535 429.5h7M538.5 426v7M536 426.5h7M539.5 423v7M536 427.5h7M539.5 424v7M536 428.5h7M539.5 425v7M536 429.5h7M539.5 426v7M537 430.5h7M540.5 427v7M537 428.5h7M540.5 425v7M538 430.5h7M541.5 427v7M538 429.5h7M541.5 426v7M539 428.5h7M542.5 425v7M539 430.5h7M542.5 427v7M540 430.5h7M543.5 427v7M540 428.5h7M543.5 425v7M540 429.5h7M543.5 426v7M541 428.5h7M544.5 425v7M541 429.5h7M544.5 426v7M542 429.5h7M545.5 426v7M542 430.5h7M545.5 427v7M543 429.5h7M546.5 426v7M543 425.5h7M546.5 422v7M544 428.5h7M547.5 425v7M544 430.5h7M547.5 427v7M544 429.5h7M547.5 426v7M545 429.5h7M548.5 426v7M545 430.5h7M548.5 427v7M545 427.5h7M548.5 424v7M546 428.5h7M549.5 425v7M546 430.5h7M549.5 427v7M546 429.5h7M549.5 426v7M547 429.5h7M550.5 426v7M548 430.5h7M551.5 427v7M548 429.5h7M551.5 426v7M549 429.5h7M552.5 426v7M549 430.5h7M552.5 427v7M550 427.5h7M553.5 424v7M550 429.5h7M553.5 426v7M550 428.5h7M553.5 425v7M551 430.5h7M554.5 427v7M551 429.5h7M554.5 426v7M552 429.5h7M555.5 426v7M552 425.5h7M555.5 422v7M552 430.5h7M555.5 427v7M553 429.5h7M556.5 426v7M553 428.5h7M556.5 425v7M554 427.5h7M557.5 424v7M554 430.5h7M557.5 427v7M554 429.5h7M557.5 426v7M555 429.5h7M558.5 426v7M555 430.5h7M558.5 427v7M556 429.5h7M559.5 426v7M556 430.5h7M559.5 427v7M166 111.5h7M169.5 108v7M186 109.5h7M189.5 106v7M121 165.5h7M124.5 162v7M140 160.5h7M143.5 157v7M156 160.5h7M159.5 157v7M195 185.5h7M198.5 182v7M202 182.5h7M205.5 179v7M150 202.5h7M153.5 199v7M114 211.5h7M117.5 208v7M130 223.5h7M133.5 220v7M201 241.5h7M204.5 238v7M130 256.5h7M133.5 253v7M149 255.5h7M152.5 252v7M172 264.5h7M175.5 261v7M179 299.5h7M182.5 296v7M165 339.5h7M168.5 336v7M157 363.5h7M160.5 360v7M173 373.5h7M176.5 370v7M131 379.5h7M134.5 376v7M140 381.5h7M143.5 378v7M149 388.5h7M152.5 385v7M165 387.5h7M168.5 384v7M205 381.5h7M208.5 378v7M219 384.5h7M222.5 381v7M231 398.5h7M234.5 395v7M231 398.5h7M234.5 395v7M239 397.5h7M242.5 394v7M255 397.5h7M258.5 394v7M217 407.5h7M220.5 404v7M205 414.5h7M208.5 411v7M220 415.5h7M223.5 412v7M225 414.5h7M228.5 411v7M233 416.5h7M236.5 413v7M241 408.5h7M244.5 405v7M244 408.5h7M247.5 405v7M241 411.5h7M244.5 408v7M240 416.5h7M243.5 413v7M226 419.5h7M229.5 416v7M228 421.5h7M231.5 418v7M206 420.5h7M209.5 417v7M239 422.5h7M242.5 419v7M170 421.5h7M173.5 418v7M192 421.5h7M195.5 418v7M180 422.5h7M183.5 419v7M111 412.5h7M114.5 409v7M111 414.5h7M114.5 411v7M111 417.5h7M114.5 414v7M111 420.5h7M114.5 417v7M137 420.5h7M140.5 417v7M256 397.5h7M259.5 394v7M257 402.5h7M260.5 399v7M262 406.5h7M265.5 403v7M276 398.5h7M279.5 395v7M275 404.5h7M278.5 401v7M280 406.5h7M283.5 403v7M270 411.5h7M273.5 408v7M273 413.5h7M276.5 410v7M282 413.5h7M285.5 410v7M288 410.5h7M291.5 407v7M289 417.5h7M292.5 414v7M298 404.5h7M301.5 401v7M306 401.5h7M309.5 398v7M307 403.5h7M310.5 400v7M306 410.5h7M309.5 407v7M299 416.5h7M302.5 413v7M299 419.5h7M302.5 416v7M299 417.5h7M302.5 414v7M322 413.5h7M325.5 410v7M323 423.5h7M326.5 420v7M261 407.5h7M264.5 404v7M256 416.5h7M259.5 413v7M261 416.5h7M264.5 413v7M262 414.5h7M265.5 411v7M247 414.5h7M250.5 411v7M274 411.5h7M277.5 408v7M281 409.5h7M284.5 406v7M257 422.5h7M260.5 419v7M262 421.5h7M265.5 418v7M281 424.5h7M284.5 421v7M275 402.5h7M278.5 399v7M315 410.5h7M318.5 407v7M316 417.5h7M319.5 414v7M322 399.5h7M325.5 396v7M323 413.5h7M326.5 410v7M255 416.5h7M258.5 413v7M261 416.5h7M264.5 413v7M255 422.5h7M258.5 419v7M276 422.5h7M279.5 419v7M247 408.5h7M250.5 405v7M289 378.5h7M292.5 375v7M329 396.5h7M332.5 393v7M331 406.5h7M334.5 403v7M331 411.5h7M334.5 408v7M330 417.5h7M333.5 414v7M349 418.5h7M352.5 415v7M352 421.5h7M355.5 418v7M355 423.5h7M358.5 420v7M354 411.5h7M357.5 408v7M340 423.5h7M343.5 420v7M331 417.5h7M334.5 414v7M352 398.5h7M355.5 395v7M362 395.5h7M365.5 392v7M369 403.5h7M372.5 400v7M348 409.5h7M351.5 406v7M353 412.5h7M356.5 409v7M354 414.5h7M357.5 411v7M356 416.5h7M359.5 413v7M351 417.5h7M354.5 414v7M348 420.5h7M351.5 417v7M353 421.5h7M356.5 418v7M379 413.5h7M382.5 410v7M383 415.5h7M386.5 412v7M385 417.5h7M388.5 414v7M387 419.5h7M390.5 416v7M389 421.5h7M392.5 418v7M391 423.5h7M394.5 420v7M380 423.5h7M383.5 420v7M378 424.5h7M381.5 421v7M402 419.5h7M405.5 416v7M401 421.5h7M404.5 418v7M403 422.5h7M406.5 419v7M362 422.5h7M365.5 419v7M339 424.5h7M342.5 421v7M370 425.5h7M373.5 422v7M424 416.5h7M427.5 413v7M417 423.5h7M420.5 420v7M461 421.5h7M464.5 418v7M485 418.5h7M488.5 415v7M445 423.5h7M448.5 420v7M471 423.5h7M474.5 420v7M407 423.5h7M410.5 420v7M431 423.5h7M434.5 420v7M520 415.5h7M523.5 412v7M527 420.5h7M530.5 417v7M531 421.5h7M534.5 418v7M493 422.5h7M496.5 419v7M487 420.5h7M490.5 417v7M524 422.5h7M527.5 419v7M552 425.5h7M555.5 422v7M509 424.5h7M512.5 421v7M498 424.5h7M501.5 421v7M559 430.5h7M562.5 427v7M107 424.5h7M110.5 421v7M106 427.5h7M109.5 424v7M106 428.5h7M109.5 425v7M107 430.5h7M110.5 427v7M108 426.5h7M111.5 423v7M109 429.5h7M112.5 426v7M108 431.5h7M111.5 428v7M113 418.5h7M116.5 415v7M110 418.5h7M113.5 415v7M113 421.5h7M116.5 418v7M109 421.5h7M112.5 418v7" stroke="#9400d3" stroke-width="1" fill="none" shape-rendering="crispEdges"/>
<path d="M571 57.5h7M574.5 54v7" stroke="#9400d3" stroke-width="1" fill="none" shape-rendering="crispEdges"/>
<rect x="109.5" y="45.5" width="503.0" height="386.0" fill="none" stroke="#000" stroke-width="1" shape-rendering="crispEdges"/>
</svg>
</body></html>
